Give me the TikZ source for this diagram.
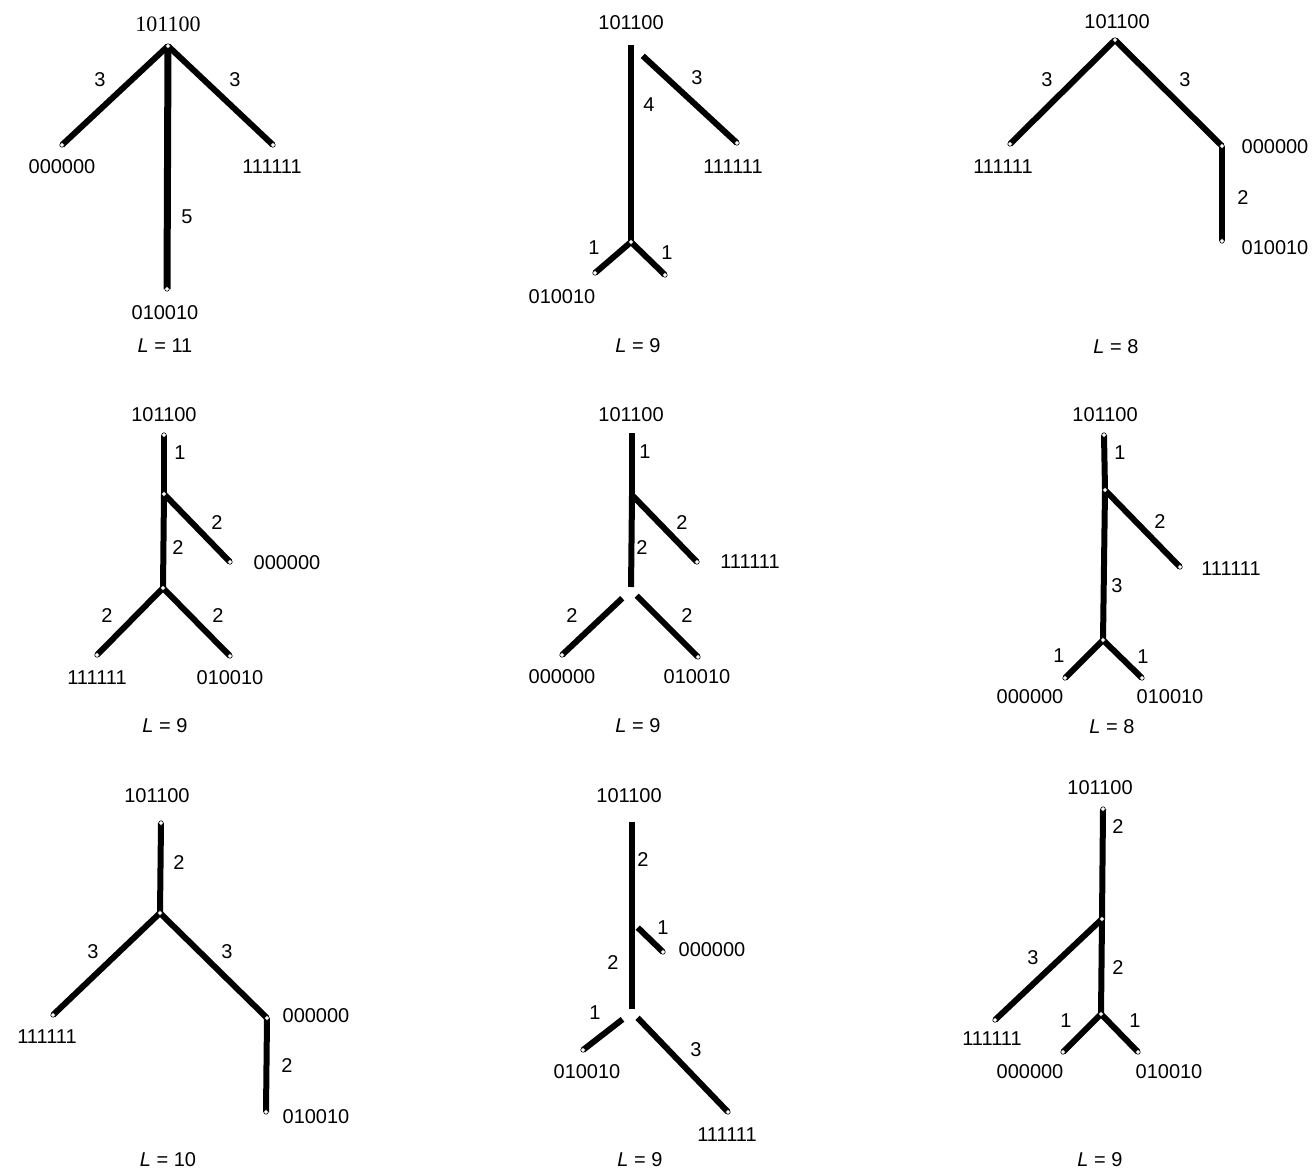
\documentclass[tikz,border=0pt]{standalone}
\usepackage{fontspec}
\setmainfont{Liberation Sans}
\newfontfamily\serifnum{Liberation Serif}
\begin{document}
\begin{tikzpicture}[x=1pt,y=-1pt,
  edge/.style={line width=6pt},
  dot/.style={circle,fill=white,draw=black,line width=0.6pt,inner sep=0pt,minimum size=4.5pt},
  lab/.style={font=\fontsize{20}{23}\selectfont,inner sep=0pt},
  slab/.style={font=\serifnum\fontsize{22}{25}\selectfont,inner sep=0pt}]
\useasboundingbox (0,0) rectangle (1314,1172);

% ---------- Tree 1 ----------
\coordinate (a-r) at (168,46);
\coordinate (a-0) at (62,145);
\coordinate (a-1) at (273,145);
\coordinate (a-2) at (167,289);
\draw[edge] (a-r) -- (a-0);
\draw[edge] (a-r) -- (a-1);
\draw[edge,line width=7pt] (a-r) -- (a-2);
\foreach \p in {a-r,a-0,a-1,a-2} \node[dot] at (\p) {};
\node[slab] (a-tr) at (168,24) {101100};
\node[lab] (a-t0) at (62,167) {000000};
\node[lab] (a-t1) at (272,167) {111111};
\node[lab] (a-t2) at (165,313) {010010};
\node[lab] (a-e0) at (100,80) {3};
\node[lab] (a-e1) at (235,80) {3};
\node[lab] (a-e2) at (187,217) {5};
\node[lab] (a-L) at (165,346) {\textit{L} = 11};

% ---------- Tree 2 ----------
\coordinate (b-r) at (631,45);
\coordinate (b-n) at (631,242);
\coordinate (b-1) at (737,143);
\coordinate (b-2) at (595,273);
\coordinate (b-3) at (665,275);
\draw[edge] (b-r) -- (b-n);
\draw[edge,shorten <=16pt] (b-r) -- (b-1);
\draw[edge] (b-n) -- (b-2);
\draw[edge] (b-n) -- (b-3);
\foreach \p in {b-n,b-1,b-2,b-3} \node[dot] at (\p) {};
\node[lab] (b-tr) at (631,23) {101100};
\node[lab] (b-t1) at (733,167) {111111};
\node[lab] (b-t2) at (562,297) {010010};
\node[lab] (b-e0) at (649,105) {4};
\node[lab] (b-e1) at (697,78) {3};
\node[lab] (b-e2) at (594,248) {1};
\node[lab] (b-e3) at (667,253) {1};
\node[lab] (b-L) at (638,346) {\textit{L} = 9};

% ---------- Tree 3 ----------
\coordinate (c-r) at (1115,40);
\coordinate (c-1) at (1010,144);
\coordinate (c-0) at (1222,146);
\coordinate (c-2) at (1222,241);
\draw[edge] (c-r) -- (c-1);
\draw[edge] (c-r) -- (c-0);
\draw[edge] (c-0) -- (c-2);
\foreach \p in {c-r,c-1,c-0,c-2} \node[dot] at (\p) {};
\node[lab] (c-tr) at (1117,22) {101100};
\node[lab] (c-t1) at (1003,167) {111111};
\node[lab] (c-t0) at (1275,147) {000000};
\node[lab] (c-t2) at (1275,248) {010010};
\node[lab] (c-e0) at (1047,80) {3};
\node[lab] (c-e1) at (1185,80) {3};
\node[lab] (c-e2) at (1243,198) {2};
\node[lab] (c-L) at (1116,347) {\textit{L} = 8};

% ---------- Tree 4 ----------
\coordinate (d-r) at (164,435);
\coordinate (d-a) at (164,494);
\coordinate (d-0) at (230,562);
\coordinate (d-b) at (163,588);
\coordinate (d-1) at (97,655);
\coordinate (d-2) at (230,656);
\draw[edge] (d-r) -- (d-a);
\draw[edge] (d-a) -- (d-0);
\draw[edge] (d-a) -- (d-b);
\draw[edge] (d-b) -- (d-1);
\draw[edge] (d-b) -- (d-2);
\foreach \p in {d-r,d-a,d-0,d-b,d-1,d-2} \node[dot] at (\p) {};
\node[lab] (d-tr) at (164,415) {101100};
\node[lab] (d-t0) at (287,563) {000000};
\node[lab] (d-t1) at (97,678) {111111};
\node[lab] (d-t2) at (230,678) {010010};
\node[lab] (d-e0) at (180,453) {1};
\node[lab] (d-e1) at (217,523) {2};
\node[lab] (d-e2) at (178,548) {2};
\node[lab] (d-e3) at (107,616) {2};
\node[lab] (d-e4) at (218,616) {2};
\node[lab] (d-L) at (165,726) {\textit{L} = 9};

% ---------- Tree 5 ----------
\coordinate (e-r) at (632,433);
\coordinate (e-a) at (632,495);
\coordinate (e-1) at (697,562);
\coordinate (e-b) at (631,590);
\coordinate (e-0) at (562,655);
\coordinate (e-2) at (698,657);
\draw[edge] (e-r) -- (e-a);
\draw[edge] (e-a) -- (e-1);
\draw[edge,shorten >=3pt] (e-a) -- (e-b);
\draw[edge,shorten <=12pt] (e-b) -- (e-0);
\draw[edge,shorten <=8pt] (e-b) -- (e-2);
\foreach \p in {e-1,e-0,e-2} \node[dot] at (\p) {};
\node[lab] (e-tr) at (631,415) {101100};
\node[lab] (e-t1) at (750,562) {111111};
\node[lab] (e-t0) at (562,677) {000000};
\node[lab] (e-t2) at (697,677) {010010};
\node[lab] (e-e0) at (645,452) {1};
\node[lab] (e-e1) at (682,523) {2};
\node[lab] (e-e2) at (642,548) {2};
\node[lab] (e-e3) at (572,616) {2};
\node[lab] (e-e4) at (687,616) {2};
\node[lab] (e-L) at (638,726) {\textit{L} = 9};

% ---------- Tree 6 ----------
\coordinate (f-r) at (1104,435);
\coordinate (f-a) at (1105,490);
\coordinate (f-1) at (1180,567);
\coordinate (f-b) at (1103,640);
\coordinate (f-0) at (1065,678);
\coordinate (f-2) at (1142,678);
\draw[edge] (f-r) -- (f-a);
\draw[edge] (f-a) -- (f-1);
\draw[edge] (f-a) -- (f-b);
\draw[edge] (f-b) -- (f-0);
\draw[edge] (f-b) -- (f-2);
\foreach \p in {f-r,f-a,f-1,f-b,f-0,f-2} \node[dot] at (\p) {};
\node[lab] (f-tr) at (1105,415) {101100};
\node[lab] (f-t1) at (1231,569) {111111};
\node[lab] (f-t0) at (1030,697) {000000};
\node[lab] (f-t2) at (1170,697) {010010};
\node[lab] (f-e0) at (1120,453) {1};
\node[lab] (f-e1) at (1160,522) {2};
\node[lab] (f-e2) at (1117,586) {3};
\node[lab] (f-e3) at (1059,656) {1};
\node[lab] (f-e4) at (1143,657) {1};
\node[lab] (f-L) at (1112,727) {\textit{L} = 8};

% ---------- Tree 7 ----------
\coordinate (g-r) at (161,823);
\coordinate (g-a) at (160,913);
\coordinate (g-1) at (53,1015);
\coordinate (g-0) at (267,1018);
\coordinate (g-2) at (266,1112);
\draw[edge] (g-r) -- (g-a);
\draw[edge] (g-a) -- (g-1);
\draw[edge] (g-a) -- (g-0);
\draw[edge] (g-0) -- (g-2);
\foreach \p in {g-r,g-a,g-1,g-0,g-2} \node[dot] at (\p) {};
\node[lab] (g-tr) at (157,796) {101100};
\node[lab] (g-t1) at (47,1037) {111111};
\node[lab] (g-t0) at (316,1016) {000000};
\node[lab] (g-t2) at (316,1117) {010010};
\node[lab] (g-e0) at (179,863) {2};
\node[lab] (g-e1) at (93,952) {3};
\node[lab] (g-e2) at (227,952) {3};
\node[lab] (g-e3) at (287,1066) {2};
\node[lab] (g-L) at (168,1160) {\textit{L} = 10};

% ---------- Tree 8 ----------
\coordinate (h-r) at (632,822);
\coordinate (h-a) at (632,922);
\coordinate (h-0) at (663,952);
\coordinate (h-b) at (632,1012);
\coordinate (h-2) at (583,1050);
\coordinate (h-1) at (728,1112);
\draw[edge] (h-r) -- (h-a);
\draw[edge,shorten >=3pt] (h-a) -- (h-b);
\draw[edge,shorten <=8pt] (h-a) -- (h-0);
\draw[edge,shorten <=12pt] (h-b) -- (h-2);
\draw[edge,shorten <=8pt] (h-b) -- (h-1);
\foreach \p in {h-0,h-2,h-1} \node[dot] at (\p) {};
\node[lab] (h-tr) at (629,796) {101100};
\node[lab] (h-t0) at (712,950) {000000};
\node[lab] (h-t2) at (587,1072) {010010};
\node[lab] (h-t1) at (727,1135) {111111};
\node[lab] (h-e0) at (643,860) {2};
\node[lab] (h-e1) at (663,928) {1};
\node[lab] (h-e2) at (613,963) {2};
\node[lab] (h-e3) at (595,1013) {1};
\node[lab] (h-e4) at (696,1050) {3};
\node[lab] (h-L) at (640,1160) {\textit{L} = 9};

% ---------- Tree 9 ----------
\coordinate (i-r) at (1103,809);
\coordinate (i-a) at (1102,919);
\coordinate (i-1) at (995,1020);
\coordinate (i-b) at (1101,1014);
\coordinate (i-0) at (1063,1052);
\coordinate (i-2) at (1138,1052);
\draw[edge] (i-r) -- (i-a);
\draw[edge] (i-a) -- (i-1);
\draw[edge] (i-a) -- (i-b);
\draw[edge] (i-b) -- (i-0);
\draw[edge] (i-b) -- (i-2);
\foreach \p in {i-r,i-a,i-1,i-b,i-0,i-2} \node[dot] at (\p) {};
\node[lab] (i-tr) at (1100,788) {101100};
\node[lab] (i-t1) at (992,1039) {111111};
\node[lab] (i-t0) at (1030,1072) {000000};
\node[lab] (i-t2) at (1169,1072) {010010};
\node[lab] (i-e0) at (1118,827) {2};
\node[lab] (i-e1) at (1033,958) {3};
\node[lab] (i-e2) at (1118,968) {2};
\node[lab] (i-e3) at (1066,1021) {1};
\node[lab] (i-e4) at (1135,1021) {1};
\node[lab] (i-L) at (1100,1160) {\textit{L} = 9};
\end{tikzpicture}
\end{document}
